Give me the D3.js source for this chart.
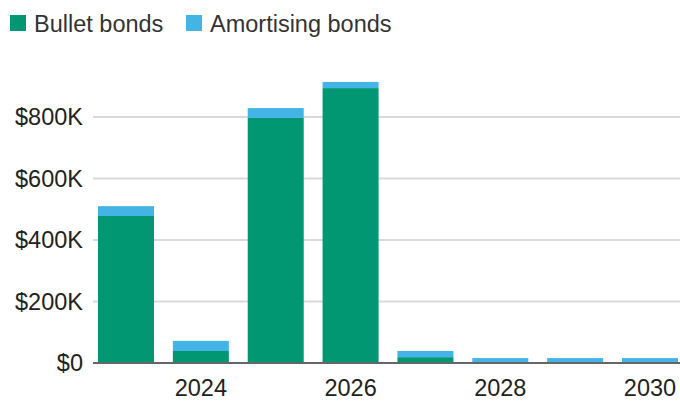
<!DOCTYPE html>
<html>
<head>
<meta charset="utf-8">
<script src="https://cdn.jsdelivr.net/npm/d3@7"></script>
<style>
  body { margin: 0; background: #fff; }
  text { font-family: "Liberation Sans", Arial, sans-serif; }
</style>
</head>
<body>
<div id="chart"></div>
<script>
// data (thousands of dollars)
var years = [2023, 2024, 2025, 2026, 2027, 2028, 2029, 2030];
var bullet = [478, 39, 797, 894, 19, 0, 0, 0];
var amortising = [32, 33, 32, 20, 20, 16, 16, 16];
var seriesNames = ["Bullet bonds", "Amortising bonds"];
var yTicks = [0, 200, 400, 600, 800];
var xTickYears = [2024, 2026, 2028, 2030];

var colors = ["#009772", "#43b4e5"];

var width = 680, height = 401;

var svg = d3.select("#chart")
  .append("svg")
    .attr("width", width)
    .attr("height", height);

// scales
var x = d3.scaleBand()
  .domain(years)
  .range([95, 681])
  .paddingInner(0.252)
  .paddingOuter(0.04);

var y = d3.scaleLinear()
  .domain([0, 800])
  .range([363, 117]);

// gridlines
svg.append("g")
  .selectAll("line")
  .data(yTicks.filter(function(d) { return d > 0; }))
  .enter()
  .append("line")
    .attr("x1", 93)
    .attr("x2", 680)
    .attr("y1", function(d) { return y(d); })
    .attr("y2", function(d) { return y(d); })
    .attr("stroke", "#d9d9d9")
    .attr("stroke-width", 2);

// y labels
svg.append("g")
  .selectAll("text")
  .data(yTicks)
  .enter()
  .append("text")
    .attr("x", 83)
    .attr("y", function(d) { return y(d); })
    .attr("dy", "0.35em")
    .attr("text-anchor", "end")
    .style("font-size", "23.5px")
    .style("fill", "#222")
    .text(function(d) { return d === 0 ? "$0" : "$" + d + "K"; });

// stacked bars
var table = years.map(function(yr, i) {
  return { year: yr, bullet: bullet[i], amortising: amortising[i] };
});
var stacked = d3.stack().keys(["bullet", "amortising"])(table);

svg.append("g")
  .selectAll("g")
  .data(stacked)
  .enter()
  .append("g")
    .style("fill", function(d, i) { return colors[i]; })
  .selectAll("rect")
  .data(function(d) { return d; })
  .enter()
  .append("rect")
    .attr("x", function(d) { return x(d.data.year); })
    .attr("y", function(d) { return y(d[1]); })
    .attr("width", x.bandwidth())
    .attr("height", function(d) { return y(d[0]) - y(d[1]); });

// baseline
svg.append("line")
  .attr("x1", 93)
  .attr("x2", 680)
  .attr("y1", y(0))
  .attr("y2", y(0))
  .attr("stroke", "#666")
  .attr("stroke-width", 2);

// x labels
svg.append("g")
  .selectAll("text")
  .data(xTickYears)
  .enter()
  .append("text")
    .attr("x", function(d) { return x(d) + x.bandwidth() / 2; })
    .attr("y", 396)
    .attr("text-anchor", "middle")
    .style("font-size", "23.5px")
    .style("fill", "#222")
    .text(function(d) { return d; });

// legend
var legendX = [10, 186];
var legend = svg.append("g")
  .selectAll("g")
  .data(seriesNames)
  .enter()
  .append("g")
    .attr("transform", function(d, i) { return "translate(" + legendX[i] + ",15)"; });
legend.append("rect")
  .attr("width", 16)
  .attr("height", 16)
  .style("fill", function(d, i) { return colors[i]; });
legend.append("text")
  .attr("x", 24)
  .attr("y", 17)
  .style("font-size", "23.5px")
  .style("fill", "#333")
  .text(function(d) { return d; });
</script>
</body>
</html>
